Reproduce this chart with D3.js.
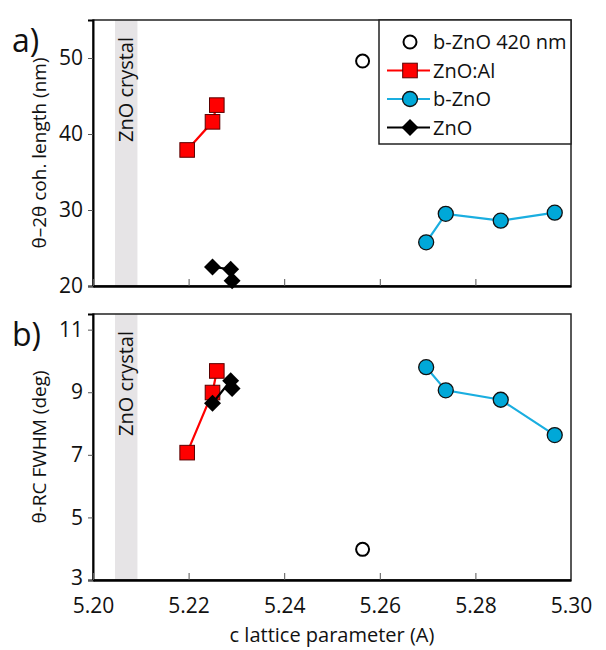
<!DOCTYPE html>
<html>
<head>
<meta charset="UTF-8">
<title>ZnO lattice</title>
<style>
  body { margin: 0; background: #fff; }
  svg text { font-family: "Open Sans", sans-serif; fill: #111; }
</style>
</head>
<body>
<svg width="606" height="650"></svg>
<script src="https://cdnjs.cloudflare.com/ajax/libs/d3/7.8.5/d3.min.js"></script>
<script>
// data
const xTicks = [5.20, 5.22, 5.24, 5.26, 5.28, 5.30];
const topTicks = [20, 30, 40, 50];
const botTicks = [3, 5, 7, 9, 11];

const crystalBand = [5.2046, 5.2093];

const znoAlX = [5.2197, 5.2250, 5.2259];
const znoAlTop = [37.9, 41.6, 43.8];
const znoAlBot = [7.07, 8.99, 9.68];

const bZnoX = [5.2697, 5.2738, 5.2853, 5.2966];
const bZnoTop = [25.75, 29.5, 28.6, 29.65];
const bZnoBot = [9.80, 9.06, 8.76, 7.63];

const znoX = [5.2250, 5.2288, 5.2291];
const znoTop = [22.5, 22.2, 20.7];
const znoBot = [8.65, 9.37, 9.12];

const b420X = [5.2564];
const b420Top = [49.6];
const b420Bot = [3.98];

const svg = d3.select('svg');
const left = 93, right = 571;

const x = d3.scaleLinear().domain([5.20, 5.30]).range([left, right]);

const panels = [
    { top: 20, bottom: 286, domain: [20, 55], ticks: topTicks, key: 'top',
      label: 'a)', title: 'θ–2θ coh. length (nm)', legend: true },
    { top: 314, bottom: 580, domain: [3, 11.5], ticks: botTicks, key: 'bot',
      label: 'b)', title: 'θ-RC FWHM (deg)', legend: false }
];

const series = [
    { name: 'b-ZnO 420 nm', xs: b420X, top: b420Top, bot: b420Bot, shape: 'open', line: null },
    { name: 'ZnO:Al', xs: znoAlX, top: znoAlTop, bot: znoAlBot, shape: 'square', line: '#ff0000' },
    { name: 'b-ZnO', xs: bZnoX, top: bZnoTop, bot: bZnoBot, shape: 'circle', line: '#1aaee0' },
    { name: 'ZnO', xs: znoX, top: znoTop, bot: znoBot, shape: 'diamond', line: '#000' }
];

function marker(g, shape, cx, cy) {
    if (shape === 'open') {
        g.append('circle').attr('cx', cx).attr('cy', cy).attr('r', 6.5)
            .attr('fill', '#fff').attr('stroke', '#000').attr('stroke-width', 2);
    } else if (shape === 'circle') {
        g.append('circle').attr('cx', cx).attr('cy', cy).attr('r', 7.5)
            .attr('fill', '#00a8d8').attr('stroke', '#111').attr('stroke-width', 1.3);
    } else if (shape === 'square') {
        g.append('rect').attr('x', cx - 7.3).attr('y', cy - 7.3)
            .attr('width', 14.6).attr('height', 14.6)
            .attr('fill', '#ff0000').attr('stroke', '#5a0000').attr('stroke-width', 1);
    } else {
        g.append('path').attr('transform', `translate(${cx},${cy}) rotate(45)`)
            .attr('d', 'M-6,-6H6V6H-6Z').attr('fill', '#000');
    }
}

panels.forEach(p => {
    const y = d3.scaleLinear().domain(p.domain).range([p.bottom, p.top]);
    const g = svg.append('g');

    // grey band for the bulk crystal value
    g.append('rect')
        .attr('x', x(crystalBand[0])).attr('width', x(crystalBand[1]) - x(crystalBand[0]))
        .attr('y', p.top).attr('height', p.bottom - p.top)
        .attr('fill', '#e6e4e6');
    g.append('text')
        .attr('transform', `translate(${(x(crystalBand[0]) + x(crystalBand[1])) / 2 + 7},${p.top + 17}) rotate(-90)`)
        .attr('text-anchor', 'end').attr('font-size', 20)
        .text('ZnO crystal');

    // frame
    g.append('rect').attr('x', left).attr('y', p.top)
        .attr('width', right - left).attr('height', p.bottom - p.top)
        .attr('fill', 'none').attr('stroke', '#222').attr('stroke-width', 1.5);

    // y axis
    const ya = g.append('g').attr('transform', `translate(${left},0)`)
        .call(d3.axisLeft(y).tickValues(p.ticks).tickSize(5).tickPadding(5));
    ya.select('.domain').attr('stroke', '#000').attr('stroke-width', 2);
    ya.selectAll('.tick line').attr('stroke', '#555');
    ya.selectAll('.tick text').attr('font-size', 21).attr('font-family', '"Open Sans", sans-serif').attr('fill', '#111');
    if (p.key === 'bot') ya.selectAll('.tick text').filter(d => d === 3).attr('dy', '0.2em');

    // x axis (inward ticks)
    const xa = g.append('g').attr('transform', `translate(0,${p.bottom})`)
        .call(d3.axisBottom(x).tickValues(xTicks).tickSizeInner(-7).tickSizeOuter(0)
            .tickPadding(18).tickFormat(d3.format('.2f')));
    xa.select('.domain').attr('stroke', '#000').attr('stroke-width', 2.5);
    xa.selectAll('.tick line').attr('stroke', '#555');
    xa.selectAll('.tick text').attr('font-size', 21).attr('font-family', '"Open Sans", sans-serif').attr('fill', '#111');
    if (p.key === 'top') xa.selectAll('.tick text').remove();

    // panel letter and y title
    g.append('text').attr('x', 12).attr('y', p.top + 32)
        .attr('font-size', 32).text(p.label);
    g.append('text')
        .attr('transform', `translate(46,${(p.top + p.bottom) / 2}) rotate(-90)`)
        .attr('text-anchor', 'middle').attr('font-size', 19).text(p.title);

    // series
    series.forEach(s => {
        const vals = s[p.key];
        const pts = s.xs.map((v, i) => [x(v), y(vals[i])]);
        if (s.line) {
            g.append('path').attr('d', d3.line()(pts))
                .attr('fill', 'none').attr('stroke', s.line).attr('stroke-width', 2.2);
        }
        pts.forEach(pt => marker(g, s.shape, pt[0], pt[1]));
    });

    // legend
    if (p.legend) {
        const lg = g.append('g');
        lg.append('rect').attr('x', 379).attr('y', p.top)
            .attr('width', right - 379).attr('height', 124)
            .attr('fill', '#fff').attr('stroke', '#222').attr('stroke-width', 1.5);
        series.forEach((s, i) => {
            const ly = p.top + 22 + i * 28.5;
            if (s.line) {
                lg.append('line').attr('x1', 387).attr('x2', 430)
                    .attr('y1', ly).attr('y2', ly)
                    .attr('stroke', s.line).attr('stroke-width', 2);
            }
            marker(lg, s.shape, 410, ly);
            lg.append('text').attr('x', 433).attr('y', ly + 7)
                .attr('font-size', 20).text(s.name);
        });
    }
});

svg.append('text').attr('x', (left + right) / 2).attr('y', 642)
    .attr('text-anchor', 'middle').attr('font-size', 20)
    .text('c lattice parameter (A)');
</script>
</body>
</html>
